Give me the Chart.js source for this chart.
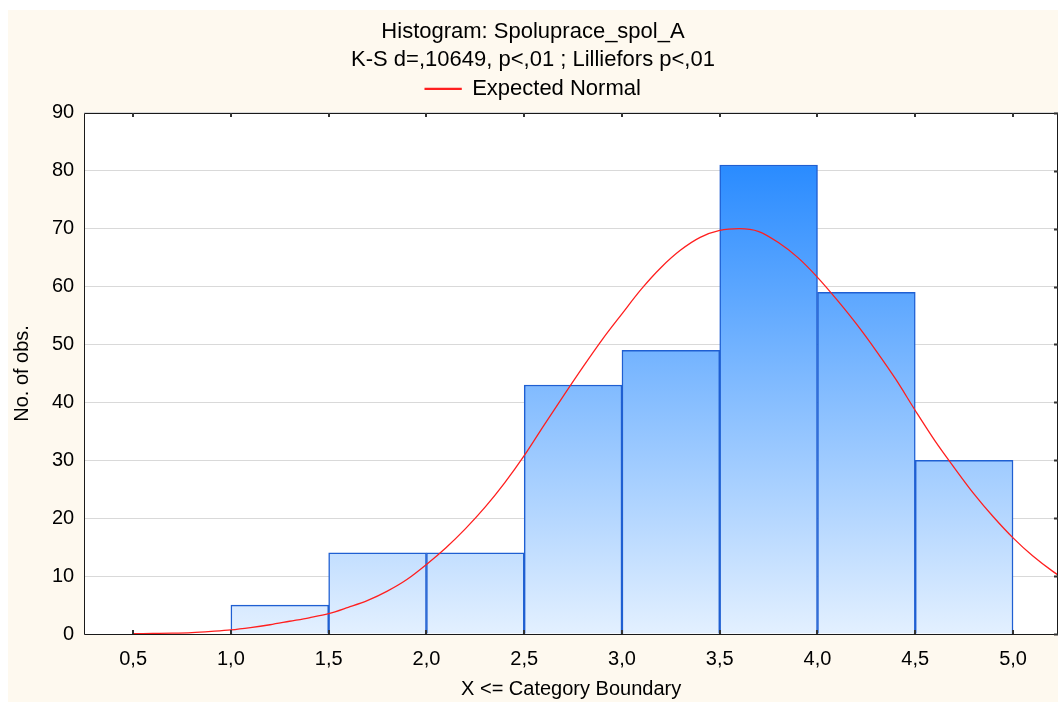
<!DOCTYPE html>
<html>
<head>
<meta charset="utf-8">
<script src="https://cdn.jsdelivr.net/npm/chart.js@4"></script>
<style>
html,body{margin:0;padding:0;background:#fff;}
#wrap{position:relative;width:1059px;height:702px;}
</style>
</head>
<body>
<div id="wrap"><canvas id="c" width="1059" height="702"></canvas></div>
<script>
const titleLines = ['Histogram: Spoluprace_spol_A', 'K-S d=,10649, p<,01 ; Lilliefors p<,01'];
const legendLabel = 'Expected Normal';
const xTitle = 'X <= Category Boundary';
const yTitle = 'No. of obs.';

const binCenters = [1.25, 1.75, 2.25, 2.75, 3.25, 3.75, 4.25, 4.75];
const binCounts  = [5, 14, 14, 43, 49, 81, 59, 30];

const xTicks = [0.5, 1.0, 1.5, 2.0, 2.5, 3.0, 3.5, 4.0, 4.5, 5.0];
const yTicks = [0, 10, 20, 30, 40, 50, 60, 70, 80, 90];

const normalX = [0.5, 0.6, 0.7, 0.8, 0.9, 1.0, 1.1, 1.2, 1.3, 1.4, 1.5, 1.6, 1.7, 1.8, 1.9, 2.0,
                 2.1, 2.2, 2.3, 2.4, 2.5, 2.6, 2.7, 2.8, 2.9, 3.0, 3.1, 3.2, 3.3, 3.4, 3.5, 3.6,
                 3.7, 3.8, 3.9, 4.0, 4.1, 4.2, 4.3, 4.4, 4.5, 4.6, 4.7, 4.8, 4.9, 5.0, 5.1, 5.2, 5.3];
const normalY = [0.05, 0.1, 0.15, 0.25, 0.45, 0.7, 1.1, 1.6, 2.2, 2.8, 3.5, 4.6, 5.8, 7.4, 9.4, 12.0,
                 14.9, 18.2, 21.9, 26.1, 30.8, 36.0, 41.1, 46.1, 50.9, 55.3, 59.6, 63.3, 66.3, 68.5, 69.7, 70.0,
                 69.5, 67.6, 65.0, 61.6, 57.7, 53.5, 48.9, 44.0, 38.6, 33.4, 28.7, 24.2, 20.2, 16.6, 13.5, 10.9, 8.7];

const FONT = 'Liberation Sans, Arial, sans-serif';

const spacerPlugin = {
  id: 'legendSpacer',
  beforeInit(chart) {
    const box = {
      position: 'top',
      weight: 0,
      fullSize: true,
      options: {},
      top: 0, left: 0, bottom: 0, right: 0, width: 0, height: 0,
      isHorizontal() { return true; },
      update(maxWidth) { this.width = maxWidth; this.height = 3; },
      draw() {}
    };
    Chart.layouts.addBox(chart, box);
  }
};

const framePlugin = {
  id: 'frame',
  beforeDraw(chart) {
    const ctx = chart.ctx;
    const a = chart.chartArea;
    ctx.save();
    ctx.fillStyle = '#ffffff';
    ctx.fillRect(0, 0, chart.width, chart.height);
    ctx.fillStyle = '#fef9ef';
    ctx.fillRect(8, 10, chart.width - 9, chart.height - 10);
    ctx.fillStyle = '#ffffff';
    ctx.fillRect(a.left, a.top, a.right - a.left, a.bottom - a.top);
    ctx.restore();
  },
  afterDraw(chart) {
    const ctx = chart.ctx;
    const a = chart.chartArea;
    const xs = chart.scales.x, ys = chart.scales.y;
    ctx.save();
    ctx.strokeStyle = '#1a1a1a';
    ctx.lineWidth = 1;
    ctx.beginPath();
    ctx.rect(Math.round(a.left) + 0.5, Math.round(a.top) + 0.5, Math.round(a.right - a.left) - 1, Math.round(a.bottom - a.top));
    ctx.stroke();
    ctx.lineWidth = 2;
    ctx.strokeStyle = '#333';
    ctx.beginPath();
    xTicks.forEach(v => {
      const px = Math.round(xs.getPixelForValue(v));
      ctx.moveTo(px, a.bottom); ctx.lineTo(px, a.bottom - 4);
      ctx.moveTo(px, a.top); ctx.lineTo(px, a.top + 4);
    });
    yTicks.forEach(v => {
      const py = Math.round(ys.getPixelForValue(v)) + 0.5;
      ctx.moveTo(a.right, py); ctx.lineTo(a.right - 4, py);
    });
    ctx.stroke();
    ctx.restore();
  }
};

function barGradient(context) {
  const chart = context.chart;
  const a = chart.chartArea;
  if (!a) return '#7ab8ff';
  const g = chart.ctx.createLinearGradient(0, a.top, 0, a.bottom);
  g.addColorStop(0, '#1580ff');
  g.addColorStop(1, '#e3f0ff');
  return g;
}

new Chart(document.getElementById('c'), {
  type: 'bar',
  data: {
    datasets: [
      {
        type: 'bar',
        label: 'bars',
        data: binCenters.map((x, i) => ({ x: x, y: binCounts[i] })),
        backgroundColor: barGradient,
        borderColor: '#1f5fd2',
        borderWidth: 1.5,
        barPercentage: 1.0,
        categoryPercentage: 1.0,
        grouped: false,
        order: 2
      },
      {
        type: 'line',
        label: legendLabel,
        data: normalX.map((x, i) => ({ x: x, y: normalY[i] })),
        borderColor: '#ff1f1f',
        backgroundColor: '#ff1f1f',
        borderWidth: 1.3,
        pointRadius: 0,
        cubicInterpolationMode: 'monotone',
        fill: false,
        order: 1
      }
    ]
  },
  options: {
    responsive: false,
    animation: false,
    devicePixelRatio: 1,
    layout: { padding: { left: 8, top: 10, right: 1, bottom: 1 } },
    plugins: {
      title: {
        display: true,
        text: titleLines,
        color: '#000',
        font: { family: FONT, size: 22, weight: 'normal', lineHeight: 1.27 },
        padding: { top: 8, bottom: 0 }
      },
      legend: {
        display: true,
        position: 'top',
        labels: {
          color: '#000',
          font: { family: FONT, size: 22 },
          boxWidth: 36,
          boxHeight: 1,
          padding: 4,
          filter: item => item.datasetIndex === 1
        }
      },
      tooltip: { enabled: false }
    },
    scales: {
      x: {
        type: 'linear',
        min: 0.25,
        max: 5.23,
        offset: false,
        grid: { display: false, offset: false },
        border: { display: false },
        afterBuildTicks: scale => { scale.ticks = xTicks.map(v => ({ value: v })); },
        ticks: {
          color: '#000',
          font: { family: FONT, size: 20 },
          padding: 5.5,
          maxRotation: 0,
          autoSkip: false,
          callback: v => Number(v).toFixed(1).replace('.', ',')
        },
        title: {
          display: true,
          text: xTitle,
          color: '#000',
          font: { family: FONT, size: 20 },
          padding: { top: 0, bottom: 0 }
        }
      },
      y: {
        type: 'linear',
        min: 0,
        max: 90,
        afterBuildTicks: scale => { scale.ticks = yTicks.map(v => ({ value: v })); },
        grid: { color: '#d9d9d9', lineWidth: 1, drawTicks: false },
        border: { display: false },
        ticks: {
          color: '#000',
          font: { family: FONT, size: 20 },
          padding: 10,
          autoSkip: false
        },
        title: {
          display: true,
          text: yTitle,
          color: '#000',
          font: { family: FONT, size: 20 },
          padding: { top: 2, bottom: 8 }
        }
      }
    }
  },
  plugins: [spacerPlugin, framePlugin]
});
</script>
</body>
</html>
